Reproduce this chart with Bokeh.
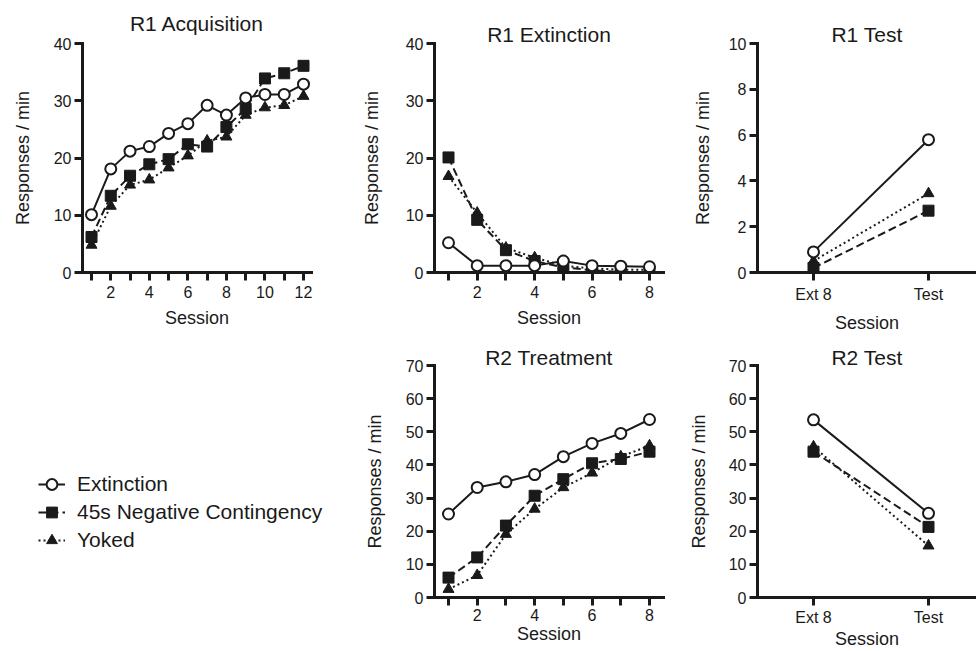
import numpy as np
from bokeh.plotting import figure
from bokeh.layouts import row, column
from bokeh.models import Range1d, FixedTicker, Legend, LegendItem
from bokeh.embed import file_html
from bokeh.resources import INLINE

FONT = "Liberation Sans"
INK = "#1a1a1a"

# ---------------- data ----------------
series_names = ["Extinction", "45s Negative Contingency", "Yoked"]

acq_sessions = [1, 2, 3, 4, 5, 6, 7, 8, 9, 10, 11, 12]
acq_ext = [10.1, 18.1, 21.2, 22.0, 24.3, 26.0, 29.2, 27.5, 30.5, 31.1, 31.1, 32.9]
acq_neg = [6.2, 13.4, 16.9, 18.9, 19.8, 22.4, 22.0, 25.4, 28.6, 33.9, 34.8, 36.1]
acq_yok = [4.8, 11.6, 15.3, 16.2, 18.3, 20.4, 23.0, 23.7, 27.5, 28.8, 29.2, 30.8]

ext_sessions = [1, 2, 3, 4, 5, 6, 7, 8]
ext_ext = [5.2, 1.2, 1.2, 1.2, 2.0, 1.2, 1.1, 1.0]
ext_neg = [20.1, 9.2, 3.9, 2.0, 0.9, 0.4, 0.1, 0.1]
ext_yok = [16.8, 10.4, 4.3, 2.6, 1.2, 0.7, 0.5, 0.5]

test_labels = ["Ext 8", "Test"]
r1test_ext = [0.9, 5.8]
r1test_neg = [0.2, 2.7]
r1test_yok = [0.5, 3.45]

trt_sessions = [1, 2, 3, 4, 5, 6, 7, 8]
trt_ext = [25.2, 33.2, 34.9, 37.1, 42.5, 46.5, 49.5, 53.7]
trt_neg = [6.0, 12.1, 21.7, 30.7, 35.7, 40.5, 41.8, 44.0]
trt_yok = [2.5, 6.7, 19.1, 26.7, 33.2, 37.6, 42.5, 45.8]

r2test_ext = [53.6, 25.4]
r2test_neg = [44.0, 21.3]
r2test_yok = [45.5, 15.6]

acq_yticks = [0, 10, 20, 30, 40]
r1test_yticks = [0, 2, 4, 6, 8, 10]
r2_yticks = [0, 10, 20, 30, 40, 50, 60, 70]

# ---------------- helpers ----------------
def xrange_px(frame_l, frame_r, v0, p0, v1, p1):
    k = (p1 - p0) / (v1 - v0)
    return Range1d(v0 - (p0 - frame_l) / k, v0 + (frame_r - p0) / k)


def draw_series(p, xs, ext, neg, yok):
    p.line(xs, yok, line_color=INK, line_width=2, line_dash="2 3")
    p.scatter(xs, yok, marker="triangle", size=11, fill_color=INK, line_color=INK)
    p.line(xs, neg, line_color=INK, line_width=2, line_dash="8 4")
    p.scatter(xs, neg, marker="square", size=11, fill_color=INK, line_color=INK)
    p.line(xs, ext, line_color=INK, line_width=2)
    p.scatter(xs, ext, marker="circle", size=11, fill_color="white",
              line_color=INK, line_width=2)


def make_panel(title, xs, ext, neg, yok, xticks, xlabels, yticks, *, width, height,
               ml, mr, mt, mb, xr, yr, title_standoff, title_offset,
               ylabel_standoff, xlabel_standoff, xtick_standoff):
    p = figure(width=width, height=height, output_backend="svg",
               toolbar_location=None, x_range=xr, y_range=yr, title=title,
               min_border_left=ml, min_border_right=mr, min_border_top=mt,
               min_border_bottom=mb, outline_line_color=None,
               background_fill_color="white", border_fill_color="white")
    p.grid.visible = False
    p.title.align = "center"
    p.title.text_font = FONT
    p.title.text_font_size = "21px"
    p.title.text_font_style = "normal"
    p.title.text_color = INK
    p.title.standoff = title_standoff
    p.title.offset = title_offset

    for ax in [p.xaxis[0], p.yaxis[0]]:
        ax.axis_line_width = 3
        ax.axis_line_color = INK
        ax.axis_line_cap = "square"
        ax.major_tick_line_width = 3
        ax.major_tick_line_color = INK
        ax.major_tick_out = 8
        ax.major_tick_in = 0
        ax.minor_tick_line_color = None
        ax.major_label_text_font = FONT
        ax.major_label_text_font_size = "16px"
        ax.major_label_text_color = INK
        ax.axis_label_text_font = FONT
        ax.axis_label_text_font_size = "18px"
        ax.axis_label_text_font_style = "normal"
        ax.axis_label_text_color = INK

    p.xaxis.axis_label = "Session"
    p.yaxis.axis_label = "Responses / min"
    p.xaxis.ticker = FixedTicker(ticks=xticks)
    p.xaxis.major_label_overrides = xlabels
    p.xaxis.major_label_standoff = xtick_standoff
    p.yaxis.major_label_standoff = 3
    p.yaxis.ticker = FixedTicker(ticks=yticks)
    p.yaxis.axis_label_standoff = ylabel_standoff
    p.xaxis.axis_label_standoff = xlabel_standoff

    draw_series(p, xs, ext, neg, yok)
    return p


def even_only(ticks):
    return {t: (str(t) if t % 2 == 0 else "") for t in ticks}


# geometry (page px)
TOP_H = 335
T_FRAME_TOP, T_AXIS0 = 43, 273
BOT_H = 651 - TOP_H
B_FRAME_TOP, B_AXIS0 = 365, 597

top_mt = T_FRAME_TOP
top_mb = TOP_H - T_AXIS0
bot_mt = B_FRAME_TOP - TOP_H
bot_mb = 651 - B_AXIS0

test_x = list(range(len(test_labels)))
test_over = {i: lab for i, lab in zip(test_x, test_labels)}

f1 = make_panel("R1 Acquisition", acq_sessions, acq_ext, acq_neg, acq_yok,
                acq_sessions, even_only(acq_sessions), acq_yticks,
                width=340, height=TOP_H, ml=82, mr=340 - 311, mt=top_mt, mb=top_mb,
                xr=xrange_px(82, 311, 1, 91, 12, 303), yr=Range1d(0, 40),
                title_standoff=17, title_offset=0,
                ylabel_standoff=18, xlabel_standoff=7, xtick_standoff=5)

f2 = make_panel("R1 Extinction", ext_sessions, ext_ext, ext_neg, ext_yok,
                ext_sessions, even_only(ext_sessions), acq_yticks,
                width=340, height=TOP_H, ml=434 - 340, mr=680 - 663, mt=top_mt, mb=top_mb,
                xr=xrange_px(434, 663, 1, 448, 8, 649), yr=Range1d(0, 40),
                title_standoff=-4, title_offset=0,
                ylabel_standoff=21, xlabel_standoff=7, xtick_standoff=5)

f3 = make_panel("R1 Test", test_x, r1test_ext, r1test_neg, r1test_yok,
                test_x, test_over, r1test_yticks,
                width=296, height=TOP_H, ml=757 - 680, mr=0, mt=top_mt, mb=top_mb,
                xr=xrange_px(757, 976, 0, 813, 1, 928), yr=Range1d(0, 10),
                title_standoff=-4, title_offset=10,
                ylabel_standoff=13, xlabel_standoff=7, xtick_standoff=5)

f4 = make_panel("R2 Treatment", trt_sessions, trt_ext, trt_neg, trt_yok,
                trt_sessions, even_only(trt_sessions), r2_yticks,
                width=340, height=BOT_H, ml=434 - 340, mr=680 - 663, mt=bot_mt, mb=bot_mb,
                xr=xrange_px(434, 663, 1, 448, 8, 649), yr=Range1d(0, 70),
                title_standoff=-6, title_offset=0,
                ylabel_standoff=18, xlabel_standoff=0, xtick_standoff=3)

f5 = make_panel("R2 Test", test_x, r2test_ext, r2test_neg, r2test_yok,
                test_x, test_over, r2_yticks,
                width=296, height=BOT_H, ml=757 - 680, mr=0, mt=bot_mt, mb=bot_mb,
                xr=xrange_px(757, 976, 0, 813, 1, 928), yr=Range1d(0, 70),
                title_standoff=-6, title_offset=10,
                ylabel_standoff=17, xlabel_standoff=0, xtick_standoff=3)

# Legend panel
lg = figure(width=340, height=BOT_H, output_backend="svg", toolbar_location=None,
            x_axis_type=None, y_axis_type=None, min_border=0,
            outline_line_color=None, x_range=Range1d(0, 1), y_range=Range1d(0, 1))
lg.grid.visible = False
nan = [np.nan]
l_ext = lg.line(nan, nan, line_color=INK, line_width=2)
s_ext = lg.scatter(nan, nan, marker="circle", size=11, fill_color="white",
                   line_color=INK, line_width=2)
l_neg = lg.line(nan, nan, line_color=INK, line_width=2, line_dash="8 4")
s_neg = lg.scatter(nan, nan, marker="square", size=11, fill_color=INK, line_color=INK)
l_yok = lg.line(nan, nan, line_color=INK, line_width=2, line_dash="2 3")
s_yok = lg.scatter(nan, nan, marker="triangle", size=11, fill_color=INK, line_color=INK)

legend = Legend(
    items=[LegendItem(label=series_names[0], renderers=[l_ext, s_ext]),
           LegendItem(label=series_names[1], renderers=[l_neg, s_neg]),
           LegendItem(label=series_names[2], renderers=[l_yok, s_yok])],
    location=(38, 43), padding=0, margin=0, spacing=0,
    glyph_width=27, glyph_height=28, label_height=28, label_standoff=12,
    border_line_color=None, background_fill_alpha=0,
    label_text_font=FONT, label_text_font_size="21px", label_text_color=INK)
lg.add_layout(legend)

layout = column(row(f1, f2, f3), row(lg, f4, f5))

with open("out.html", "w") as fh:
    fh.write(file_html(layout, INLINE))
